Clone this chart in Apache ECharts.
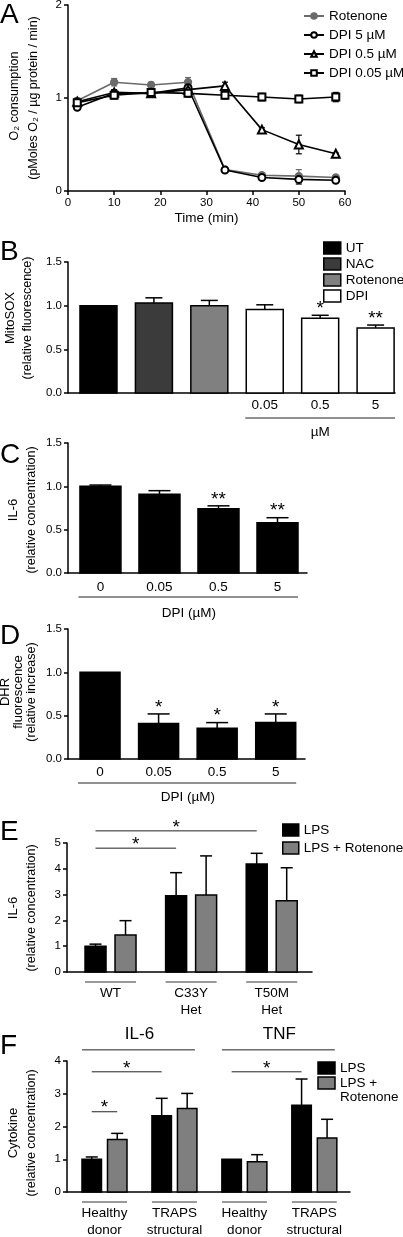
<!DOCTYPE html>
<html><head><meta charset="utf-8">
<script src="https://cdn.jsdelivr.net/npm/echarts@6/dist/echarts.min.js"></script>
<style>html,body{margin:0;padding:0;background:#fff}#c{width:403px;height:1237px}</style>
</head><body><div id="c"></div>
<script>
// ---------- DATA ----------
// Panel A: O2 consumption time course
const timeA = [2, 10, 18, 26, 34, 42, 50, 58];
const seriesNamesA = ['Rotenone', 'DPI 5 µM', 'DPI 0.5 µM', 'DPI 0.05 µM'];
const rotenoneA = [0.97, 1.17, 1.14, 1.17, 0.23, 0.17, 0.16, 0.145];
const rotenoneErrA = [0.03, 0.04, 0.03, 0.05, 0.01, 0.01, 0.07, 0.01];
const dpi5A = [0.90, 1.05, 1.05, 1.11, 0.225, 0.145, 0.125, 0.115];
const dpi5ErrA = [0.02, 0.03, 0.03, 0.02, 0.01, 0.01, 0.05, 0.01];
const dpi05A = [0.96, 1.06, 1.05, 1.09, 1.13, 0.66, 0.50, 0.40];
const dpi05ErrA = [0.03, 0.03, 0.03, 0.02, 0.04, 0.02, 0.10, 0.01];
const dpi005A = [0.95, 1.03, 1.06, 1.05, 1.03, 1.01, 0.99, 1.01];
const dpi005ErrA = [0.04, 0.04, 0.04, 0.04, 0.04, 0.04, 0.04, 0.05];
const arrowTimeA = 26;

// Panel B: MitoSOX
const treatmentB = ['UT', 'NAC', 'Rotenone', 'DPI', 'DPI', 'DPI'];
const legendB = ['UT', 'NAC', 'Rotenone', 'DPI'];
const doseB = ['', '', '', '0.05', '0.5', '5'];
const valuesB = [1.00, 1.03, 1.00, 0.955, 0.855, 0.745];
const errB = [0, 0.06, 0.06, 0.055, 0.035, 0.033];
const sigB = ['', '', '', '', '*', '**'];

// Panels C, D: DPI dose response
const dosesCD = ['0', '0.05', '0.5', '5'];
const valuesC = [1.00, 0.91, 0.74, 0.58];
const errC = [0.015, 0.04, 0.035, 0.058];
const sigC = ['', '', '**', '**'];
const valuesD = [1.00, 0.41, 0.355, 0.42];
const errD = [0, 0.11, 0.065, 0.10];
const sigD = ['', '*', '*', '*'];

// Panel E: IL-6 by genotype
const groupsE = ['WT', 'C33Y\nHet', 'T50M\nHet'];
const seriesE = ['LPS', 'LPS + Rotenone'];
const lpsE = [1.00, 2.96, 4.19];
const lpsErrE = [0.08, 0.89, 0.41];
const rotE = [1.43, 2.98, 2.76];
const rotErrE = [0.56, 1.52, 1.28];
const sigPairsE = [[0, 2, '*'], [0, 1, '*']];

// Panel F: cytokines
const cytokinesF = ['IL-6', 'TNF'];
const groupsF = ['Healthy\ndonor', 'TRAPS\nstructural', 'Healthy\ndonor', 'TRAPS\nstructural'];
const seriesF = ['LPS', 'LPS +\nRotenone'];
const lpsF = [1.00, 2.33, 1.00, 2.65];
const lpsErrF = [0.07, 0.53, 0, 0.80];
const rotF = [1.60, 2.55, 0.92, 1.65];
const rotErrF = [0.19, 0.46, 0.22, 0.57];

// ---------- LAYOUT / STYLE ----------
const FONT = "'Liberation Sans', Arial, Helvetica, sans-serif";
const chart = echarts.init(document.getElementById('c'), null, {renderer: 'canvas'});
const grids = [
  {left: 68, top: 5, width: 277, height: 186},
  {left: 68, top: 262, width: 327, height: 131},
  {left: 68, top: 443, width: 239, height: 130},
  {left: 68, top: 629, width: 237, height: 130},
  {left: 67, top: 843, width: 245, height: 129},
  {left: 67, top: 1061, width: 283, height: 131}
];
const axLine = {show: true, onZero: false, lineStyle: {color: '#000', width: 1.5}};
const axTick = {show: true, length: 4, lineStyle: {color: '#000', width: 1.5}};
const tickLabel = {color: '#000', fontSize: 11.5, fontFamily: FONT, margin: 6};
const STAR = 19;
function yAx(g, max, interval, dec) {
  return {type: 'value', gridIndex: g, min: 0, max: max, interval: interval,
    axisLine: axLine, axisTick: axTick, splitLine: {show: false},
    axisLabel: Object.assign({}, tickLabel, {formatter: v => v.toFixed(dec)})};
}
function xBar(g, min, max) {
  return {type: 'value', gridIndex: g, min: min, max: max, axisLine: axLine,
    axisTick: {show: false}, axisLabel: {show: false}, splitLine: {show: false}};
}
function txtStyle(text, size, align, valign) {
  return {text: text, font: size + 'px ' + FONT, fill: '#000',
    textAlign: align || 'center', align: align || 'center',
    textVerticalAlign: valign || 'middle', verticalAlign: valign || 'middle'};
}

// error bars for line chart
function errRender(color) {
  return function (params, api) {
    const t = api.value(0), v = api.value(1), e = api.value(2);
    const lo = api.coord([t, v - e]), hi = api.coord([t, v + e]);
    const c = 3, st = {stroke: color, lineWidth: 1.2};
    return {type: 'group', children: [
      {type: 'line', shape: {x1: lo[0], y1: lo[1], x2: hi[0], y2: hi[1]}, style: st},
      {type: 'line', shape: {x1: hi[0] - c, y1: hi[1], x2: hi[0] + c, y2: hi[1]}, style: st},
      {type: 'line', shape: {x1: lo[0] - c, y1: lo[1], x2: lo[0] + c, y2: lo[1]}, style: st}
    ]};
  };
}
// bar + upper error bar + significance + label
function barRender(opt) {
  return function (params, api) {
    const x = api.value(0), v = api.value(1), e = api.value(2);
    const top = api.coord([x, v]), base = api.coord([x, 0]), et = api.coord([x, v + e]);
    const cx = top[0] + (opt.offset || 0), w = opt.width, cap = opt.cap;
    const ch = [];
    const st = {stroke: '#000', lineWidth: 1.5};
    if (e > 0) {
      ch.push({type: 'line', shape: {x1: cx, y1: top[1], x2: cx, y2: et[1]}, style: st});
      ch.push({type: 'line', shape: {x1: cx - cap / 2, y1: et[1], x2: cx + cap / 2, y2: et[1]}, style: st});
    }
    ch.push({type: 'rect', shape: {x: cx - w / 2, y: top[1], width: w, height: base[1] - top[1]},
      style: {fill: opt.color, stroke: '#000', lineWidth: 1.5}});
    const s = opt.sig ? opt.sig[x] : '';
    if (s) ch.push({type: 'text', x: cx, y: et[1] - 6.5, style: txtStyle(s, STAR)});
    const lab = opt.labels ? opt.labels[x] : '';
    if (lab) ch.push({type: 'text', x: cx, y: base[1] + opt.labelDy, style: txtStyle(lab, 13.5)});
    return {type: 'group', children: ch};
  };
}

// ---------- SERIES ----------
const series = [];
const defsA = [
  {v: rotenoneA, e: rotenoneErrA, color: '#6a6a6a', symbol: 'circle'},
  {v: dpi5A, e: dpi5ErrA, color: '#000', symbol: 'emptyCircle'},
  {v: dpi05A, e: dpi05ErrA, color: '#000', symbol: 'emptyTriangle'},
  {v: dpi005A, e: dpi005ErrA, color: '#000', symbol: 'emptyRect'}
];
defsA.forEach((d, k) => {
  const s = {
    type: 'line', name: seriesNamesA[k], xAxisIndex: 0, yAxisIndex: 0, z: 3,
    data: timeA.map((t, i) => [t, d.v[i]]),
    symbol: d.symbol, symbolSize: d.symbol === 'emptyTriangle' ? 8 : 7, showSymbol: true,
    lineStyle: {color: d.color, width: 1.6},
    itemStyle: {color: d.color, borderColor: d.color, borderWidth: 1.3}
  };
  if (k === 0) {
    s.markLine = {silent: true, symbol: ['none', 'arrow'], symbolSize: [9, 13],
      label: {show: false}, lineStyle: {color: '#222', width: 1.5, type: 'solid'},
      data: [[{coord: [arrowTimeA, 2.02]}, {coord: [arrowTimeA, 1.47]}]]};
  }
  series.push(s);
  series.push({type: 'custom', name: seriesNamesA[k] + ' err', xAxisIndex: 0, yAxisIndex: 0, z: 2,
    data: timeA.map((t, i) => [t, d.v[i], d.e[i]]), renderItem: errRender(d.color)});
});

const colorsB = {UT: '#000', NAC: '#3b3b3b', Rotenone: '#808080', DPI: '#fff'};
legendB.forEach(t => {
  series.push({type: 'custom', name: 'B:' + t, xAxisIndex: 1, yAxisIndex: 1, itemStyle: {color: colorsB[t]},
    data: treatmentB.map((tt, i) => tt === t ? [i, valuesB[i], errB[i]] : null).filter(Boolean),
    renderItem: barRender({width: 37, cap: 17, color: colorsB[t], sig: sigB, labels: doseB, labelDy: 12})});
});
series.push({type: 'custom', name: 'C', xAxisIndex: 2, yAxisIndex: 2,
  data: dosesCD.map((d, i) => [i, valuesC[i], errC[i]]),
  renderItem: barRender({width: 41, cap: 22, color: '#000', sig: sigC, labels: dosesCD, labelDy: 14})});
series.push({type: 'custom', name: 'D', xAxisIndex: 3, yAxisIndex: 3,
  data: dosesCD.map((d, i) => [i, valuesD[i], errD[i]]),
  renderItem: barRender({width: 40, cap: 22, color: '#000', sig: sigD, labels: dosesCD, labelDy: 13})});
const OFF_E = 15, W_E = 21, OFF_F = 12.75, W_F = 19.5;
series.push({type: 'custom', name: 'E:' + seriesE[0], xAxisIndex: 4, yAxisIndex: 4, itemStyle: {color: '#000'},
  data: groupsE.map((g, i) => [i, lpsE[i], lpsErrE[i]]),
  renderItem: barRender({width: W_E, cap: 12, color: '#000', offset: -OFF_E})});
series.push({type: 'custom', name: 'E:' + seriesE[1], xAxisIndex: 4, yAxisIndex: 4, itemStyle: {color: '#7f7f7f'},
  data: groupsE.map((g, i) => [i, rotE[i], rotErrE[i]]),
  renderItem: barRender({width: W_E, cap: 12, color: '#7f7f7f', offset: OFF_E})});
series.push({type: 'custom', name: 'F:LPS', xAxisIndex: 5, yAxisIndex: 5,
  data: groupsF.map((g, i) => [i, lpsF[i], lpsErrF[i]]),
  renderItem: barRender({width: W_F, cap: 12, color: '#000', offset: -OFF_F})});
series.push({type: 'custom', name: 'F:LPS + Rotenone', xAxisIndex: 5, yAxisIndex: 5,
  data: groupsF.map((g, i) => [i, rotF[i], rotErrF[i]]),
  renderItem: barRender({width: W_F, cap: 12, color: '#7f7f7f', offset: OFF_F})});

const legText = {color: '#000', fontSize: 13.5, fontFamily: FONT, lineHeight: 16};
const option = {
  animation: false,
  textStyle: {fontFamily: FONT},
  grid: grids.map(g => Object.assign({containLabel: false, outerBoundsMode: 'none'}, g)),
  xAxis: [
    {type: 'value', gridIndex: 0, min: 0, max: 60, interval: 10, axisLine: axLine, axisTick: axTick,
      axisLabel: tickLabel, splitLine: {show: false}},
    xBar(1, -0.55, 5.35), xBar(2, -0.55, 3.5), xBar(3, -0.547, 3.5), xBar(4, -0.54, 2.5), xBar(5, -0.536, 3.51)
  ],
  yAxis: [yAx(0, 2, 1, 0), yAx(1, 1.5, 0.5, 1), yAx(2, 1.5, 0.5, 1), yAx(3, 1.5, 0.5, 1), yAx(4, 5, 1, 0), yAx(5, 4, 1, 0)],
  legend: [
    {left: 298, top: 3, orient: 'vertical', itemWidth: 20, itemHeight: 7, itemGap: 3,
      textStyle: legText, data: seriesNamesA, selectedMode: false},
    {left: 318, top: 235, orient: 'vertical', itemWidth: 17, itemHeight: 12, itemGap: 0,
      textStyle: legText, selectedMode: false, formatter: n => n.replace(/^[A-Z]:/, ''),
      data: legendB.map(t => ({name: 'B:' + t, icon: 'rect',
        itemStyle: {color: colorsB[t], borderColor: '#000', borderWidth: 1.5}}))},
    {left: 277, top: 817, orient: 'vertical', itemWidth: 16, itemHeight: 12, itemGap: 2,
      textStyle: legText, selectedMode: false, formatter: n => n.replace(/^[A-Z]:/, ''),
      data: [{name: 'E:' + seriesE[0], icon: 'rect', itemStyle: {color: '#000', borderColor: '#000', borderWidth: 1.5}},
             {name: 'E:' + seriesE[1], icon: 'rect', itemStyle: {color: '#7f7f7f', borderColor: '#000', borderWidth: 1.5}}]}
  ],
  series: series
};
chart.setOption(option);

// ---------- ANNOTATIONS ----------
const P = (g, x, y) => chart.convertToPixel({gridIndex: g}, [x, y]);
const G = [];
function T(x, y, text, size, align) { G.push({type: 'text', x: x, y: y, silent: true, style: txtStyle(text, size, align)}); }
function VT(x, y, text, size) { G.push({type: 'text', x: x, y: y, rotation: Math.PI / 2, silent: true, style: txtStyle(text, size)}); }
function Ln(x1, y1, x2, y2, color, w) { G.push({type: 'line', silent: true, shape: {x1: x1, y1: y1, x2: x2, y2: y2}, style: {stroke: color || '#000', lineWidth: w || 1}}); }
function star(x, lineY) { T(x, lineY - 3.5, '*', STAR); }

// panel letters
[['A', 15], ['B', 252], ['C', 455], ['D', 636], ['E', 832], ['F', 1046]].forEach(l => T(0, l[1], l[0], 28, 'left'));

// y titles
VT(15, 96, 'O₂ consumption', 12.5); VT(34, 98, '(pMoles O₂ / µg protein / min)', 12.5);
VT(10, 318, 'MitoSOX', 13); VT(28, 318, '(relative fluorescence)', 12.5);
VT(13, 510, 'IL-6', 13); VT(32, 510, '(relative concentration)', 12.5);
VT(5, 692, 'DHR', 13); VT(18, 692, 'fluorescence', 13); VT(32, 692, '(relative increase)', 12.5);
VT(13, 908, 'IL-6', 13); VT(32, 908, '(relative concentration)', 12.5);
VT(13, 1133, 'Cytokine', 13); VT(32, 1133, '(relative concentration)', 12.5);

// A x title
const a0 = P(0, 30, 0);
T(a0[0], a0[1] + 27, 'Time (min)', 13.5);

// B µM bracket
const bl = P(1, 3, 0), br = P(1, 5, 0);
Ln(bl[0] - 19.5, bl[1] + 25, br[0] + 19.5, bl[1] + 25, '#222', 1);
T((bl[0] + br[0]) / 2, bl[1] + 39, 'µM', 13.5);
// C / D brackets
[[2, 24, 40], [3, 24, 38]].forEach(c => {
  const l = P(c[0], 0, 0), r = P(c[0], 3, 0);
  Ln(l[0] - 22, l[1] + c[1], r[0] + 20.5, l[1] + c[1], '#222', 1);
  T((l[0] + r[0]) / 2, l[1] + c[2], 'DPI (µM)', 13.5);
});

// E group lines, labels, significance
groupsE.forEach((g, i) => {
  const p = P(4, i, 0);
  Ln(p[0] - OFF_E - W_E / 2, p[1] + 10, p[0] + OFF_E + W_E / 2, p[1] + 10, '#333', 1);
  g.split('\n').forEach((s, k) => T(p[0], p[1] + 21 + 17 * k, s, 13.5));
});
const sigLevelE = [5.47, 4.8];
sigPairsE.forEach((s, k) => {
  const a = P(4, s[0], sigLevelE[k]), b = P(4, s[1], sigLevelE[k]);
  Ln(a[0] - OFF_E, a[1], b[0] - OFF_E, a[1], '#222', 1);
  star((a[0] + b[0]) / 2 - OFF_E, a[1]);
});

// F headers, groups, significance
cytokinesF.forEach((c, k) => {
  const a = P(5, 2 * k, 4.34), b = P(5, 2 * k + 1, 4.34);
  Ln(a[0] - OFF_F - W_F / 2, a[1], b[0] + OFF_F + W_F / 2 - 2, a[1], '#222', 1);
  T((a[0] + b[0]) / 2, P(5, 0, 4.8)[1], c, 17);
});
groupsF.forEach((g, i) => {
  const p = P(5, i, 0);
  Ln(p[0] - OFF_F - W_F / 2, p[1] + 10, p[0] + OFF_F + W_F / 2, p[1] + 10, '#333', 1);
  g.split('\n').forEach((s, k) => T(p[0], p[1] + 21 + 17 * k, s, 13.5));
});
// LPS(group a) vs LPS(group b) and LPS vs LPS+Rotenone within healthy donor
[[0, -OFF_F, 1, -OFF_F, 3.67], [2, -OFF_F, 3, -OFF_F, 3.67], [0, -OFF_F, 0, OFF_F, 2.45]].forEach(s => {
  const a = P(5, s[0], s[4]), b = P(5, s[2], s[4]);
  Ln(a[0] + s[1], a[1], b[0] + s[3], a[1], '#222', 1);
  star((a[0] + s[1] + b[0] + s[3]) / 2, a[1]);
});
// F legend
const legF = [['#000', seriesF[0]], ['#7f7f7f', seriesF[1]]];
legF.forEach((l, k) => {
  const y = 1068 + 15 * k;
  G.push({type: 'rect', silent: true, shape: {x: 318, y: y - 6, width: 17, height: 12}, style: {fill: l[0], stroke: '#000', lineWidth: 1.5}});
  l[1].split('\n').forEach((s, j) => T(340, y + 14 * j, s, 13.5, 'left'));
});

chart.setOption({graphic: {elements: G}});
</script></body></html>
